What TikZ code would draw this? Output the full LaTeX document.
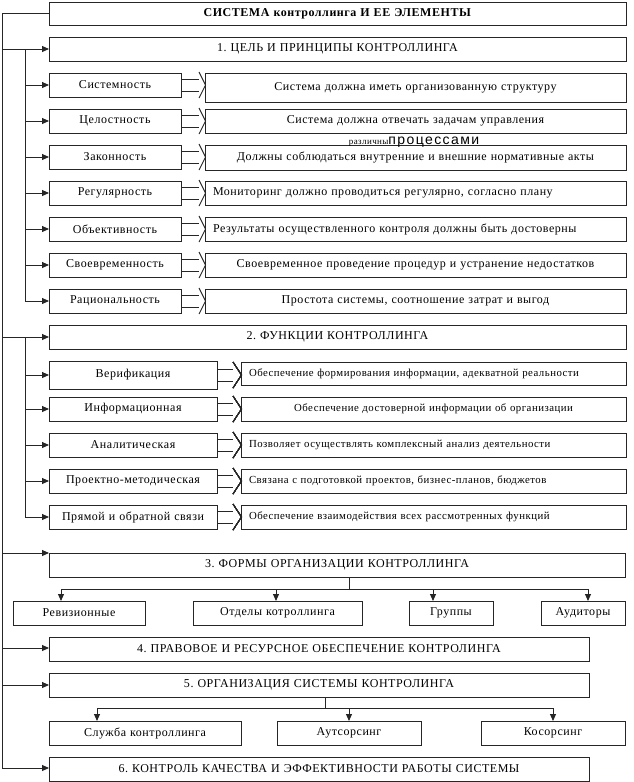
\documentclass[tikz,border=0pt]{standalone}
\usepackage{fontspec}
\setmainfont{Liberation Serif}[LetterSpace=4.5]
\newfontfamily\sansf{Liberation Sans}[LetterSpace=10]
\usetikzlibrary{arrows.meta,calc}
\frenchspacing
\tikzset{
  ln/.style={draw=black!85, line width=0.9pt},
  arr/.style={ln, -{Triangle[length=7pt,width=6pt]}},
  bx/.style={draw=black!85, line width=0.9pt, anchor=north west, inner xsep=8pt, inner ysep=0pt,
             outer sep=0pt, font=\fontsize{12}{14}\selectfont, align=center},
  lft/.style={align=left},
  sm/.style={font=\fontsize{10.8}{13}\selectfont}
}
\newcommand\mybox[7][]{%
  \pgfmathsetmacro\bw{#5-#3}\pgfmathsetmacro\bh{#6-#4}\pgfmathsetmacro\tw{#5-#3-16}%
  \node[bx, minimum width=\bw pt, minimum height=\bh pt, text width=\tw pt, #1] (#2) at (#3,#4) {#7};}
\newcommand\blockarrow[3]{% left, right, back offset
  \draw[ln] ($(#1.east)+(0,-6)$) -- ($(#2.west |- #1.east)+(-#3,-6)$);
  \draw[ln] ($(#1.east)+(0,6)$) -- ($(#2.west |- #1.east)+(-#3,6)$);
  \draw[ln] ($(#2.west |- #1.east)+(-#3,-13)$) -- ($(#2.west |- #1.east)+(0.5,0)$) -- ($(#2.west |- #1.east)+(-#3,13)$);}
\begin{document}
\begin{tikzpicture}[x=1pt,y=-1pt]
\useasboundingbox (0,0) rectangle (634,782);
% main boxes
\mybox{top}{49}{2}{626}{25}{\textbf{СИСТЕМА контроллинга И ЕЕ ЭЛЕМЕНТЫ}}
\mybox{s1}{49}{37}{626}{61}{1. ЦЕЛЬ И ПРИНЦИПЫ КОНТРОЛЛИНГА}
% section 1 rows
\mybox{a1}{49}{73}{181}{97}{Системность}
\mybox{b1}{205}{73}{626}{102}{Система должна иметь организованную структуру}
\mybox{a2}{49}{109}{181}{133}{Целостность}
\mybox{b2}{205}{109}{626}{133}{Система должна отвечать задачам управления}
\mybox{a3}{49}{145}{181}{169}{Законность}
\mybox{b3}{205}{145}{626}{170}{Должны соблюдаться внутренние и внешние нормативные акты}
\mybox{a4}{49}{181}{181}{205}{Регулярность}
\mybox[lft]{b4}{205}{181}{626}{205}{Мониторинг должно проводиться регулярно, согласно плану}
\mybox{a5}{49}{217}{181}{241}{Объективность}
\mybox[lft]{b5}{205}{217}{626}{241}{Результаты осуществленного контроля должны быть достоверны}
\mybox{a6}{49}{253}{181}{277}{Своевременность}
\mybox{b6}{205}{253}{626}{277}{Своевременное проведение процедур и устранение недостатков}
\mybox{a7}{49}{289}{181}{313}{Рациональность}
\mybox{b7}{205}{289}{626}{313}{Простота системы, соотношение затрат и выгод}
\node[inner sep=0pt, anchor=base] (ov) at (414,144) {\fontsize{9}{10}\selectfont различны\sansf\fontsize{14}{15}\selectfont процессами};
% section 2
\mybox{s2}{49}{325}{626}{349}{2. ФУНКЦИИ КОНТРОЛЛИНГА}
\mybox{c1}{49}{361}{217}{389}{Верификация}
\mybox[lft,sm]{d1}{241}{362}{626}{385}{Обеспечение формирования информации, адекватной реальности}
\mybox{c2}{49}{397}{217}{421}{Информационная}
\mybox[sm]{d2}{241}{397}{626}{421}{Обеспечение достоверной информации об организации}
\mybox{c3}{49}{433}{217}{457}{Аналитическая}
\mybox[lft,sm]{d3}{241}{433}{626}{457}{Позволяет осуществлять комплексный анализ деятельности}
\mybox{c4}{49}{469}{217}{493}{Проектно-методическая}
\mybox[lft,sm]{d4}{241}{469}{626}{493}{Связана с подготовкой проектов, бизнес-планов, бюджетов}
\mybox{c5}{49}{505}{217}{529}{Прямой и обратной связи}
\mybox[lft,sm]{d5}{241}{505}{626}{529}{Обеспечение взаимодействия всех рассмотренных функций}
% section 3
\mybox{s3}{49}{553}{625}{577}{3. ФОРМЫ ОРГАНИЗАЦИИ КОНТРОЛЛИНГА}
\mybox{e1}{13}{601}{145}{625}{Ревизионные}
\mybox{e2}{193}{601}{362}{625}{Отделы котроллинга}
\mybox{e3}{409}{601}{493}{625}{Группы}
\mybox{e4}{541}{601}{625}{625}{Аудиторы}
% sections 4, 5, 6
\mybox{s4}{49}{637}{589}{661}{4. ПРАВОВОЕ И РЕСУРСНОЕ ОБЕСПЕЧЕНИЕ КОНТРОЛИНГА}
\mybox{s5}{49}{673}{589}{697}{5. ОРГАНИЗАЦИЯ СИСТЕМЫ КОНТРОЛИНГА}
\mybox{f1}{49}{721}{241}{745}{Служба контроллинга}
\mybox{f2}{277}{721}{421}{745}{Аутсорсинг}
\mybox{f3}{481}{721}{625}{745}{Косорсинг}
\mybox{s6}{49}{757}{589}{781}{6. КОНТРОЛЬ КАЧЕСТВА И ЭФФЕКТИВНОСТИ РАБОТЫ СИСТЕМЫ}
% outer spine
\coordinate (o1) at (2,49);
\coordinate (o2) at (2,337);
\coordinate (o3) at (2,553);
\coordinate (o4) at (2,648);
\coordinate (o5) at (2,685);
\coordinate (o6) at (2,768);
\draw[ln] (top.west) -| (o6);
\foreach \o/\s in {o1/s1,o2/s2,o3/s3,o4/s4,o5/s5,o6/s6}
  \draw[arr] (\o) -- (\o -| \s.west);
% inner spines
\coordinate (i1) at (25,49);
\coordinate (i2) at (25,337);
\draw[ln] (i1) -- (i1 |- a7.west);
\foreach \n in {a1,a2,a3,a4,a5,a6,a7} \draw[arr] (i1 |- \n.west) -- (\n.west);
\draw[ln] (i2) -- (i2 |- c5.west);
\foreach \n in {c1,c2,c3,c4,c5} \draw[arr] (i2 |- \n.west) -- (\n.west);
% block arrows
\foreach \n in {1,...,7} \blockarrow{a\n}{b\n}{6}
\foreach \n in {1,...,5} \blockarrow{c\n}{d\n}{8}
% tree 3
\coordinate (t3) at (349,589);
\coordinate (t3a) at (61,589);
\coordinate (t3b) at (276,589);
\coordinate (t3c) at (433,589);
\coordinate (t3d) at (588,589);
\draw[ln] (t3 |- s3.south) -- (t3);
\draw[ln] (t3a) -- (t3d);
\draw[arr] (t3a) -- (t3a |- e1.north);
\draw[arr] (t3b) -- (t3b |- e2.north);
\draw[arr] (t3c) -- (t3c |- e3.north);
\draw[arr] (t3d) -- (t3d |- e4.north);
% tree 5
\coordinate (t5) at (325,708);
\coordinate (t5a) at (97,708);
\coordinate (t5b) at (349,708);
\coordinate (t5c) at (553,708);
\draw[ln] (t5 |- s5.south) -- (t5);
\draw[ln] (t5a) -- (t5c);
\draw[arr] (t5a) -- (t5a |- f1.north);
\draw[arr] (t5b) -- (t5b |- f2.north);
\draw[arr] (t5c) -- (t5c |- f3.north);
\end{tikzpicture}
\end{document}
